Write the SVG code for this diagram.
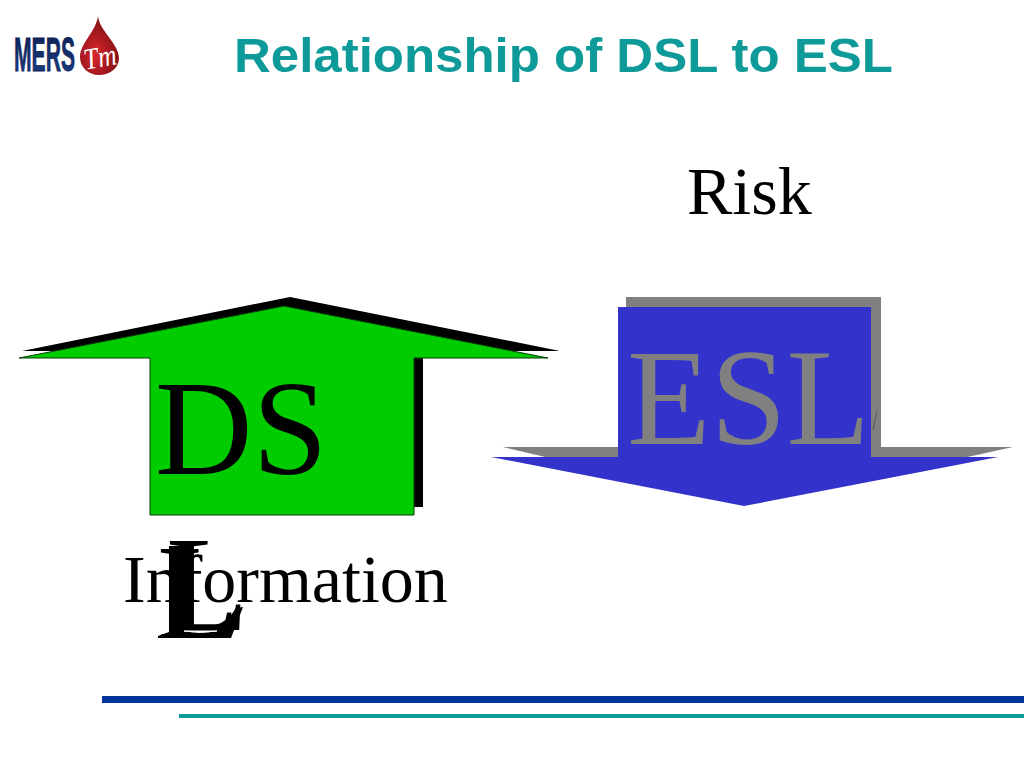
<svg xmlns="http://www.w3.org/2000/svg" width="1024" height="768" viewBox="0 0 1024 768">
<style>
.serif{font-family:"Liberation Serif","Times New Roman",serif}
.big{font-size:135px}
.mid{font-size:68px;fill:#000}
</style>
<defs>
<radialGradient id="drop" cx="0.4" cy="0.65" r="0.65"><stop offset="0" stop-color="#d8262c"/><stop offset="1" stop-color="#7c0f14"/></radialGradient>
<linearGradient id="mers" x1="0" y1="0" x2="0" y2="1"><stop offset="0" stop-color="#0c1f52"/><stop offset="1" stop-color="#1c3f86"/></linearGradient>
</defs>
<rect width="1024" height="768" fill="#fff"/>
<g id="logo">
<text x="14" y="71" font-family="Liberation Sans,Arial,sans-serif" font-weight="700" font-size="48" fill="url(#mers)" stroke="#0c1f52" stroke-width="0.8" textLength="61" lengthAdjust="spacingAndGlyphs">MERS</text>
<path d="M98 16C99 30 119 44 119 58C119 68 110 75 99 75C88 75 80 67 80 57C80 43 96 32 98 16Z" fill="url(#drop)"/>
<text x="84" y="67" font-family="Liberation Serif,serif" font-style="italic" font-size="30" fill="#fff" textLength="33" lengthAdjust="spacingAndGlyphs" transform="rotate(-10 100 60)">Tm</text>
</g>
<g id="title"><text x="234" y="72" font-family="Liberation Sans,Arial,sans-serif" font-weight="700" font-size="48" fill="#0f9a9a" textLength="659" lengthAdjust="spacingAndGlyphs">Relationship of DSL to ESL</text></g>
<g id="risk"><text class="serif mid" x="687" y="214">Risk</text></g>
<g id="dsl-arrow">
<path d="M22 351L290 297L560 351L423 351L423 507L160 507L160 351Z" fill="#000"/>
<path d="M19 358L284 306L548 358L414 358L414 515L150 515L150 358Z" fill="#00cc00" stroke="#0b3a0b" stroke-width="1"/>
<text class="serif big" x="155" y="474" fill="#000">DS</text>
</g>
<g id="information"><text class="serif mid" x="123" y="602">Information</text></g>
<g id="dsl-letter">
<text class="serif big" x="166" y="630" fill="#000">L</text>
<text class="serif big" x="157" y="638" fill="#000">L</text>
<path d="M169 546H193V625H215Q228 622 236 608L243 607L231 638H158V636L169 632Z" fill="#000"/>
<path d="M184 631Q200 634 217 631Z" fill="#fff" stroke="#fff" stroke-width="1"/>
</g>
<g id="esl-arrow">
<path d="M503 447L626 447L626 297L881 297L881 447L1013 447L881 476L626 476Z" fill="#808080"/>
<path d="M491 457L618 457L618 307L871 307L871 457L998 457L744 506Z" fill="#3333cc"/>
<text class="serif" font-size="137" x="627" y="444" fill="#808080" textLength="243" lengthAdjust="spacingAndGlyphs">ESL</text>
<path d="M873 430L877 411" stroke="#5a5a5a" stroke-width="1" fill="none"/>
</g>
<g id="rules">
<rect x="102" y="696" width="922" height="7" fill="#003399"/>
<rect x="179" y="714" width="845" height="4" fill="#0f9a9a"/>
</g>
</svg>
